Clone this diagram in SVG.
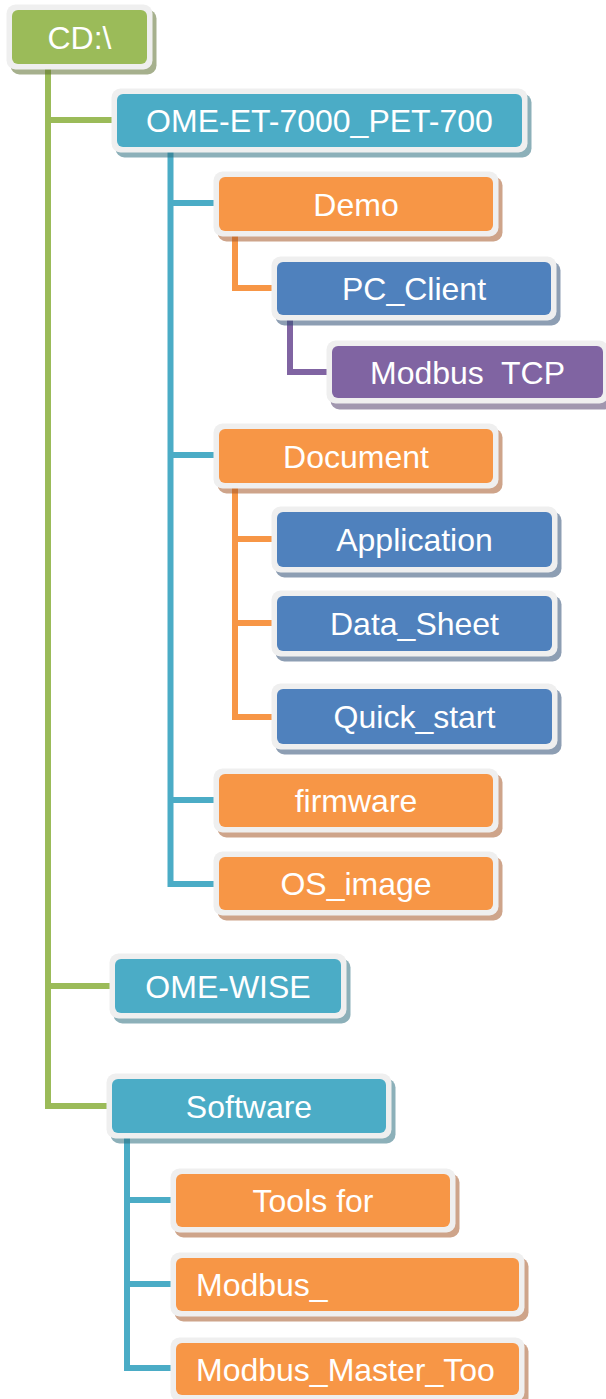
<svg xmlns="http://www.w3.org/2000/svg" width="606" height="1399" viewBox="0 0 606 1399">
<style>
.frame{fill:#efefef}
.t{font-family:"Liberation Sans",Arial,sans-serif;font-size:32px;fill:#ffffff;text-anchor:middle}
.tl{font-family:"Liberation Sans",Arial,sans-serif;font-size:32px;fill:#ffffff;text-anchor:start}
.sh{opacity:0.55}
.c{fill:none;stroke-width:6;stroke-linecap:butt;stroke-linejoin:miter}
.green{fill:#9bbb59}.teal{fill:#4bacc6}.orange{fill:#f79646}.blue{fill:#4f81bd}.purple{fill:#8064a2}
.shgreen{fill:#5d7030}.shteal{fill:#2e6f80}.shorange{fill:#a65a2a}.shblue{fill:#2f4f75}.shpurple{fill:#54416e}
</style>
<rect width="606" height="1399" fill="#ffffff"/>
<g id="connectors">
<path class="c" stroke="#9bbb59" d="M48,64 V1106 H108 M48,120 H113 M48,986 H110"/>
<path class="c" stroke="#4bacc6" d="M170.5,147 V884 H214 M170.5,203 H214 M170.5,455 H214 M170.5,800 H214"/>
<path class="c" stroke="#f79646" d="M235,231 V288 H273"/>
<path class="c" stroke="#8064a2" d="M290,315 V372 H327"/>
<path class="c" stroke="#f79646" d="M235,483 V717 H273 M235,539 H273 M235,623 H273"/>
<path class="c" stroke="#4bacc6" d="M127,1133 V1368 H171 M127,1200 H171 M127,1284 H171"/>
</g>
<g id="n-cd">
<rect class="sh shgreen" x="10.5" y="9.5" width="146" height="65" rx="9"/>
<rect class="frame" x="6.5" y="4.5" width="146" height="65" rx="9"/>
<rect class="green" x="12" y="10" width="135" height="54" rx="6"/>
<text class="t" x="79.5" y="48.5">CD:\</text>
</g>
<g id="n-ome-et">
<rect class="sh shteal" x="115.5" y="93.5" width="416" height="64" rx="9"/>
<rect class="frame" x="111.5" y="88.5" width="416" height="64" rx="9"/>
<rect class="teal" x="117" y="94" width="405" height="53" rx="6"/>
<text class="t" x="319.5" y="132">OME-ET-7000_PET-700</text>
</g>
<g id="n-demo">
<rect class="sh shorange" x="217.5" y="176.5" width="285" height="65" rx="9"/>
<rect class="frame" x="213.5" y="171.5" width="285" height="65" rx="9"/>
<rect class="orange" x="219" y="177" width="274" height="54" rx="6"/>
<text class="t" x="356" y="215.5">Demo</text>
</g>
<g id="n-pc-client">
<rect class="sh shblue" x="275.5" y="261.5" width="285" height="64" rx="9"/>
<rect class="frame" x="271.5" y="256.5" width="285" height="64" rx="9"/>
<rect class="blue" x="277" y="262" width="274" height="53" rx="6"/>
<text class="t" x="414" y="300">PC_Client</text>
</g>
<g id="n-modbus-tcp">
<rect class="sh shpurple" x="330.5" y="345.5" width="282" height="64" rx="9"/>
<rect class="frame" x="326.5" y="340.5" width="282" height="63" rx="9"/>
<rect class="purple" x="332" y="346" width="271" height="52" rx="6"/>
<text class="t" x="467.5" y="383.5" xml:space="preserve">Modbus  TCP</text>
</g>
<g id="n-document">
<rect class="sh shorange" x="217.5" y="428.5" width="285" height="65" rx="9"/>
<rect class="frame" x="213.5" y="423.5" width="285" height="65" rx="9"/>
<rect class="orange" x="219" y="429" width="274" height="54" rx="6"/>
<text class="t" x="356" y="467.5">Document</text>
</g>
<g id="n-application">
<rect class="sh shblue" x="275.5" y="511.5" width="286" height="66" rx="9"/>
<rect class="frame" x="271.5" y="506.5" width="286" height="66" rx="9"/>
<rect class="blue" x="277" y="512" width="275" height="55" rx="6"/>
<text class="t" x="414.5" y="551">Application</text>
</g>
<g id="n-data-sheet">
<rect class="sh shblue" x="275.5" y="595.5" width="286" height="66" rx="9"/>
<rect class="frame" x="271.5" y="590.5" width="286" height="66" rx="9"/>
<rect class="blue" x="277" y="596" width="275" height="55" rx="6"/>
<text class="t" x="414.5" y="635">Data_Sheet</text>
</g>
<g id="n-quick-start">
<rect class="sh shblue" x="275.5" y="688.5" width="286" height="66" rx="9"/>
<rect class="frame" x="271.5" y="683.5" width="286" height="66" rx="9"/>
<rect class="blue" x="277" y="689" width="275" height="55" rx="6"/>
<text class="t" x="414.5" y="728">Quick_start</text>
</g>
<g id="n-firmware">
<rect class="sh shorange" x="217.5" y="773.5" width="285" height="64" rx="9"/>
<rect class="frame" x="213.5" y="768.5" width="285" height="64" rx="9"/>
<rect class="orange" x="219" y="774" width="274" height="53" rx="6"/>
<text class="t" x="356" y="812">firmware</text>
</g>
<g id="n-os-image">
<rect class="sh shorange" x="217.5" y="856.5" width="285" height="64" rx="9"/>
<rect class="frame" x="213.5" y="851.5" width="285" height="64" rx="9"/>
<rect class="orange" x="219" y="857" width="274" height="53" rx="6"/>
<text class="t" x="356" y="895">OS_image</text>
</g>
<g id="n-ome-wise">
<rect class="sh shteal" x="113.5" y="958.5" width="237" height="65" rx="9"/>
<rect class="frame" x="109.5" y="953.5" width="237" height="65" rx="9"/>
<rect class="teal" x="115" y="959" width="226" height="54" rx="6"/>
<text class="t" x="228" y="997.5">OME-WISE</text>
</g>
<g id="n-software">
<rect class="sh shteal" x="110.5" y="1078.5" width="285" height="65" rx="9"/>
<rect class="frame" x="106.5" y="1073.5" width="285" height="65" rx="9"/>
<rect class="teal" x="112" y="1079" width="274" height="54" rx="6"/>
<text class="t" x="249" y="1117.5">Software</text>
</g>
<g id="n-tools-for">
<rect class="sh shorange" x="174.5" y="1173.5" width="285" height="64" rx="9"/>
<rect class="frame" x="170.5" y="1168.5" width="285" height="64" rx="9"/>
<rect class="orange" x="176" y="1174" width="274" height="53" rx="6"/>
<text class="t" x="313" y="1212">Tools for</text>
</g>
<g id="n-modbus">
<rect class="sh shorange" x="174.5" y="1257.5" width="354" height="64" rx="9"/>
<rect class="frame" x="170.5" y="1252.5" width="354" height="64" rx="9"/>
<rect class="orange" x="176" y="1258" width="343" height="53" rx="6"/>
<text class="tl" x="196" y="1296">Modbus_</text>
</g>
<g id="n-modbus-master">
<rect class="sh shorange" x="174.5" y="1342.5" width="354" height="64" rx="9"/>
<rect class="frame" x="170.5" y="1337.5" width="354" height="64" rx="9"/>
<rect class="orange" x="176" y="1343" width="343" height="52" rx="6"/>
<text class="tl" x="196" y="1380.5">Modbus_Master_Too</text>
</g>
</svg>
